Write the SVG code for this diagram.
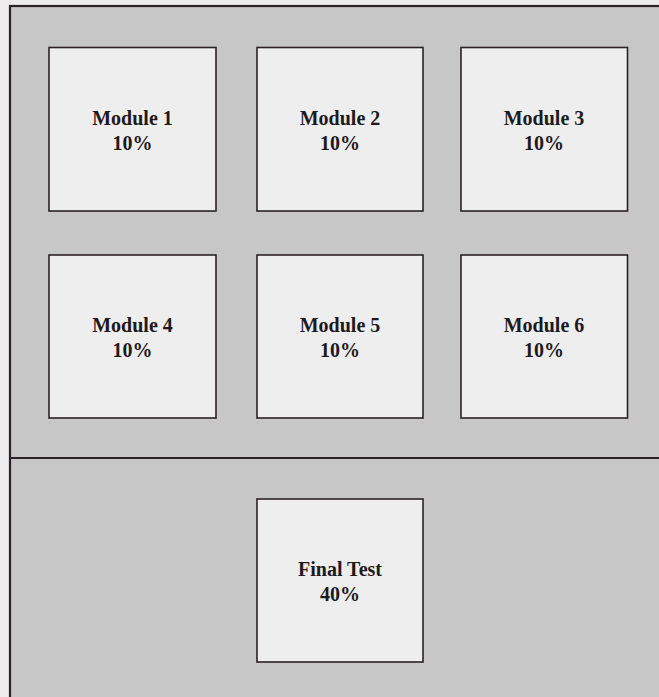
<svg xmlns="http://www.w3.org/2000/svg" width="659" height="697" viewBox="0 0 659 697">
<style>
.box{fill:#eeeeee;stroke:#2a2226;stroke-width:1.6}
.lbl{font-family:"Liberation Serif","Times New Roman",serif;font-weight:bold;font-size:20px;fill:#1e1a1c;text-anchor:middle}
</style>
<rect x="0" y="0" width="659" height="697" fill="#ededed"/>
<rect id="frame" x="10" y="6" width="660" height="700" fill="#c7c7c7" stroke="#2a2226" stroke-width="2.2"/>
<g id="connectors">
<line x1="10" y1="458" x2="659" y2="458" stroke="#2a2226" stroke-width="1.8"/>
</g>
<g id="m1"><rect class="box" x="49" y="47.5" width="167" height="163.5"/><text class="lbl" x="132.5" y="125">Module 1</text><text class="lbl" x="132.5" y="150">10%</text></g>
<g id="m2"><rect class="box" x="257" y="47.5" width="166" height="163.5"/><text class="lbl" x="340" y="125">Module 2</text><text class="lbl" x="340" y="150">10%</text></g>
<g id="m3"><rect class="box" x="461" y="47.5" width="166.5" height="163.5"/><text class="lbl" x="544" y="125">Module 3</text><text class="lbl" x="544" y="150">10%</text></g>
<g id="m4"><rect class="box" x="49" y="255" width="167" height="163"/><text class="lbl" x="132.5" y="332">Module 4</text><text class="lbl" x="132.5" y="357">10%</text></g>
<g id="m5"><rect class="box" x="257" y="255" width="166" height="163"/><text class="lbl" x="340" y="332">Module 5</text><text class="lbl" x="340" y="357">10%</text></g>
<g id="m6"><rect class="box" x="461" y="255" width="166.5" height="163"/><text class="lbl" x="544" y="332">Module 6</text><text class="lbl" x="544" y="357">10%</text></g>
<g id="final"><rect class="box" x="257" y="499" width="166" height="163"/><text class="lbl" x="340" y="576">Final Test</text><text class="lbl" x="340" y="601">40%</text></g>
</svg>
